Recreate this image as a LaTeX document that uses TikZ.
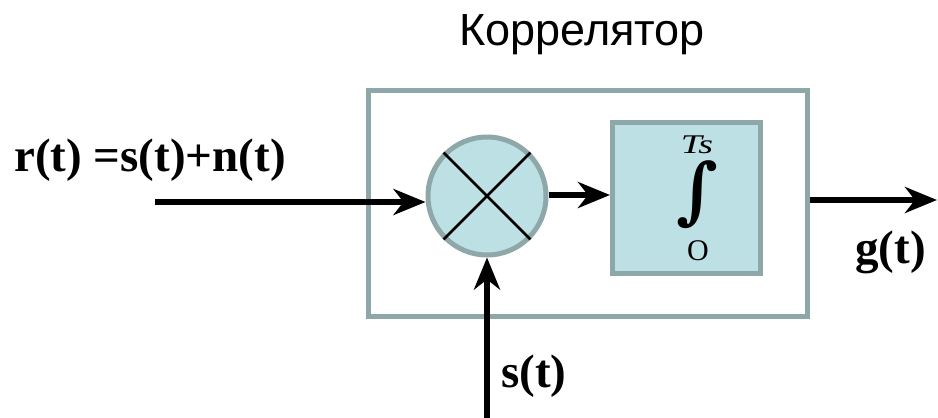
\documentclass[tikz,border=0pt]{standalone}
\usepackage{fontspec}
\setmainfont{Liberation Serif}
\newfontfamily\sansfont{Liberation Sans}
\newfontfamily\intfont{DejaVu Serif}
\usetikzlibrary{arrows.meta}

\definecolor{frame}{RGB}{142,168,170}
\definecolor{unitfill}{RGB}{188,224,228}

\tikzset{
  unitline/.style={draw=frame, line width=5pt},
  signal/.style={draw=black, line width=5.5pt,
    -{Stealth[length=32pt, width=26pt, inset=10pt]}},
  sig/.style={font=\fontsize{47}{52}\selectfont\bfseries, inner sep=0pt}
}

\begin{document}
\begin{tikzpicture}[x=1pt, y=-1pt]
  \useasboundingbox (0,0) rectangle (938,418);

  % enclosing correlator frame
  \node[unitline, fill=white, minimum width=439pt, minimum height=226pt,
        inner sep=0pt, anchor=north west] (frame) at (366,88) {};
  \node[font=\sansfont\fontsize{45}{50}\selectfont, anchor=base, inner sep=0pt]
        (title) at (582,45) {Коррелятор};

  % multiplier
  \node[unitline, fill=unitfill, circle, minimum size=118pt, inner sep=0pt]
        (mul) at (487,196) {};
  \draw[line width=2.6pt] (mul.north west) -- (mul.south east)
                          (mul.north east) -- (mul.south west);

  % integrator
  \node[unitline, fill=unitfill, minimum width=148pt, minimum height=151pt,
        inner sep=0pt, anchor=north west] (intg) at (610,120) {};
  \node[font=\fontsize{27}{30}\selectfont\itshape, anchor=base, inner sep=0pt]
        (upper) at (697,153) {\scalebox{1.4}[1]{Ts}};
  \node[inner sep=0pt] (sign) at (697,195)
        {\resizebox*{!}{68pt}{\intfont\bfseries ∫}};
  \node[font=\fontsize{30}{32}\selectfont, anchor=base, inner sep=0pt]
        (lower) at (698,260) {O};

  % signal connectors
  \coordinate (rin) at (155,202);
  \coordinate (sin) at (487,418);
  \coordinate (gout) at (937,200);
  \draw[signal] (rin) -- (mul.west |- rin);
  \draw[signal] (mul.east |- 0,195) -- (intg.west |- 0,195);
  \draw[signal] (sin) -- (mul.south);
  \draw[signal] (frame.east |- gout) -- (gout);

  % signal labels
  \node[sig, anchor=base west] (rlabel) at (14,171) {r(t) =s(t)+n(t)};
  \node[sig, anchor=base west] (slabel) at (501,387) {s(t)};
  \node[sig, anchor=base west] (glabel) at (855,263) {g(t)};
\end{tikzpicture}
\end{document}
